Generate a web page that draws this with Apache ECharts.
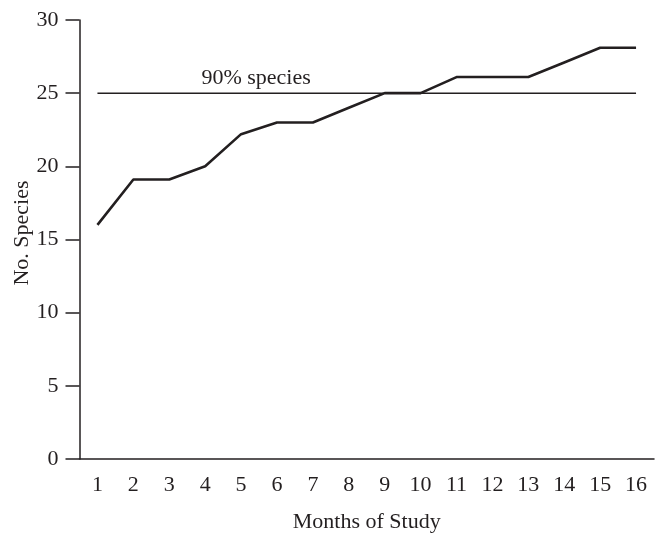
<!DOCTYPE html>
<html>
<head>
<meta charset="utf-8">
<script src="https://cdn.jsdelivr.net/npm/echarts@6/dist/echarts.min.js"></script>
<style>html,body{margin:0;padding:0;background:#fff;}#c{width:666px;height:534px;}</style>
</head>
<body>
<div id="c"></div>
<script>
var months = ['1','2','3','4','5','6','7','8','9','10','11','12','13','14','15','16'];
var species = [16, 19.1, 19.1, 20, 22.2, 23, 23, 24, 25, 25, 26.1, 26.1, 26.1, 27.1, 28.1, 28.1];
var threshold = [25, 25, 25, 25, 25, 25, 25, 25, 25, 25, 25, 25, 25, 25, 25, 25];
var thresholdLabel = '90% species';
var labelIndex = 4;

var font = '"Liberation Serif", "Times New Roman", serif';
var ink = '#231f20';
var fs = 22;
var chart = echarts.init(document.getElementById('c'));
chart.setOption({
  animation: false,
  grid: {left: 79.5, right: 12, top: 20, bottom: 75, containLabel: false, outerBoundsMode: 'none'},
  xAxis: {
    type: 'category',
    data: months,
    boundaryGap: true,
    name: 'Months of Study',
    nameLocation: 'middle',
    nameGap: 52,
    nameMoveOverlap: false,
    nameTextStyle: {fontFamily: font, fontSize: fs, color: ink},
    axisLine: {lineStyle: {color: ink, width: 1.5}},
    axisTick: {length: 10, lineStyle: {color: ink, width: 1.5}},
    axisLabel: {fontFamily: font, fontSize: fs, color: ink, margin: 15, interval: 0},
    splitLine: {show: false}
  },
  yAxis: {
    type: 'value',
    min: 0, max: 30, interval: 5,
    name: 'No. Species',
    nameLocation: 'middle',
    nameGap: 46,
    nameMoveOverlap: false,
    nameTextStyle: {fontFamily: font, fontSize: fs, color: ink, padding: [0, 0, 0, 13]},
    axisLine: {show: true, lineStyle: {color: ink, width: 1.5}},
    axisTick: {show: true, length: 14, lineStyle: {color: ink, width: 1.5}},
    axisLabel: {fontFamily: font, fontSize: fs, color: ink, margin: 21},
    splitLine: {show: false}
  },
  series: [
    {
      type: 'line',
      data: threshold.map(function (v, i) {
        if (i === labelIndex) {
          return {value: v, symbol: 'circle', symbolSize: 1, itemStyle: {color: 'rgba(0,0,0,0)'},
            label: {show: true, formatter: thresholdLabel, position: 'top', distance: 3, offset: [15, 0],
            fontFamily: font, fontSize: fs, color: ink}};
        }
        return {value: v, symbol: 'none'};
      }),
      showSymbol: true,
      lineStyle: {color: ink, width: 1.5},
      silent: true
    },
    {
      type: 'line',
      data: species,
      symbol: 'none',
      lineStyle: {color: ink, width: 2.6},
      silent: true
    }
  ]
});
</script>
</body>
</html>
